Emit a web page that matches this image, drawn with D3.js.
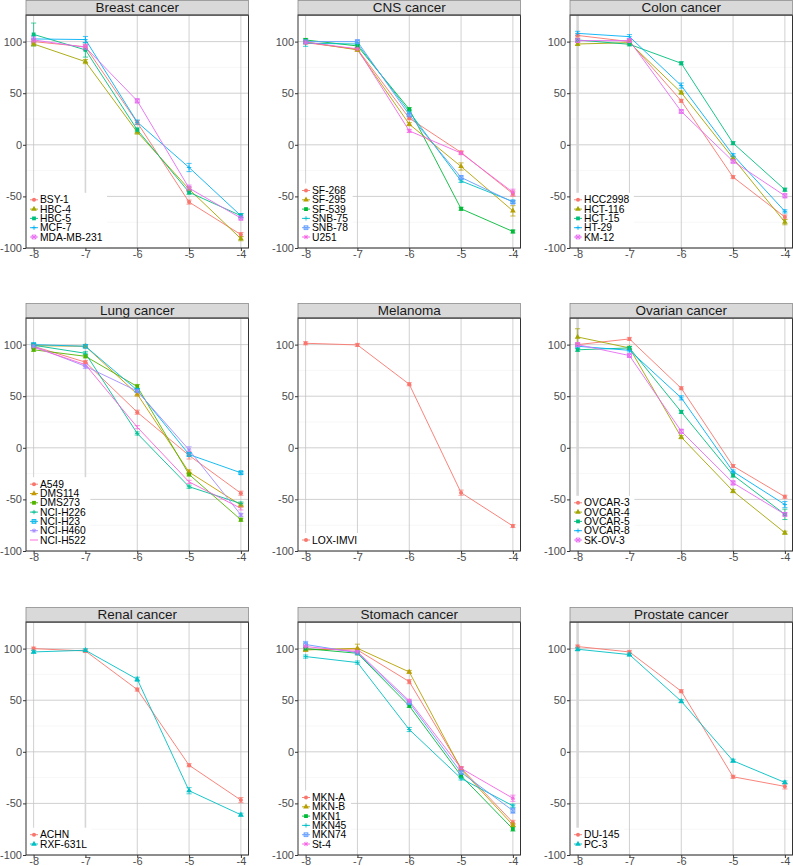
<!DOCTYPE html>
<html>
<head>
<meta charset="utf-8">
<script src="https://cdn.jsdelivr.net/npm/d3@7"></script>
<style>
  html, body { margin: 0; padding: 0; background: #fff; }
  svg { display: block; font-family: "Liberation Sans", Arial, sans-serif; }
</style>
</head>
<body>
<svg id="chart" width="793" height="866"></svg>
<script>
// ---------------- DATA ----------------
const doses = [-8, -7, -6, -5, -4];
const yTicks = [-100, -50, 0, 50, 100];
const yMinor = [-75, -25, 25, 75];
const panelTitles = ["Breast cancer", "CNS cancer", "Colon cancer",
                     "Lung cancer", "Melanoma", "Ovarian cancer",
                     "Renal cancer", "Stomach cancer", "Prostate cancer"];

const breastLines = ["BSY-1", "HBC-4", "HBC-5", "MCF-7", "MDA-MB-231"];
const breastMean = [[100, 95, 21.6, -55.5, -87], [97.7, 80.6, 12.3, -43, -91],
                    [107, 92, 14.5, -46, -68.7], [102.6, 102, 22, -22, -68.7],
                    [101.6, 94.5, 42.6, -42, -71]];
const breastSD = [[2, 2, 2, 2, 2], [2, 2, 2, 2, 2], [11, 7, 2, 2, 2],
                  [3, 3, 2, 4, 2], [3, 3, 2, 3, 2]];

const cnsLines = ["SF-268", "SF-295", "SF-539", "SNB-75", "SNB-78", "U251"];
const cnsMean = [[99, 92.6, 25.8, -7.4, -47.4], [99.7, 92, 20, -21, -64],
                 [101.6, 95.8, 34.5, -62, -84], [98.4, 97.7, 32, -35, -55],
                 [100, 100, 29, -31.6, -55.5], [99.4, 93, 13.5, -8, -46]];
const cnsSD = [[1.5, 1.5, 1.5, 1.5, 2.5], [1.5, 1.5, 1.5, 3.5, 5],
               [1.5, 1.5, 1.5, 1.5, 1.5], [3, 1.5, 2, 1.5, 1.5],
               [1.5, 1.5, 1.5, 1.5, 1.5], [1.5, 1.5, 1.5, 1.5, 3]];

const colonLines = ["HCC2998", "HCT-116", "HCT-15", "HT-29", "KM-12"];
const colonMean = [[106, 100, 42.6, -31.3, -70], [97.7, 99, 50.6, -13, -75],
                   [101.6, 97.4, 79, 1.6, -43.5], [108, 104.8, 57.4, -10, -64.5],
                   [101, 101, 32.3, -16, -49.4]];
const colonSD = [[1.5, 1.5, 1.5, 1.5, 2], [1.5, 1.5, 1.5, 1.5, 2.5],
                 [1.5, 1.5, 1.5, 1.5, 1.5], [2, 2, 2.5, 1.5, 1.5],
                 [1.5, 1.5, 1.5, 1.5, 2]];

const lungLines = ["A549", "DMS114", "DMS273", "NCI-H226", "NCI-H23", "NCI-H460", "NCI-H522"];
const lungMean = [[98.4, 83, 34.5, -7.4, -44], [99, 98.4, 52, -23.5, -55.5],
                  [95, 88.7, 59.4, -25.8, -69.7], [99.4, 91.6, 13.9, -37.7, -54],
                  [100, 98.4, 55.8, -6.5, -24.2], [98.4, 79, 55, -2, -65],
                  [97.4, 80.6, 20, -33, -58.7]];
const lungSD = [[1.5, 1.5, 2, 3.5, 2], [1.5, 1.5, 2, 2, 2], [1.5, 1.5, 2, 1.5, 1.5],
                [1.5, 1.5, 1.5, 1.5, 1.5], [1.5, 1.5, 1.5, 1.5, 1.5],
                [1.5, 2, 1.5, 3, 1.5], [1.5, 1.5, 1.5, 1.5, 1.5]];

const melanomaLines = ["LOX-IMVI"];
const melanomaMean = [[101.3, 99.7, 61.6, -43.5, -75.8]];
const melanomaSD = [[1.5, 1.5, 1.5, 2.5, 1.5]];

const ovarianLines = ["OVCAR-3", "OVCAR-4", "OVCAR-5", "OVCAR-8", "SK-OV-3"];
const ovarianMean = [[100, 105.5, 57.7, -17.7, -47.4], [107.4, 96.8, 10.3, -42, -82.3],
                     [95, 96.8, 34.8, -26.5, -64.5], [98.4, 94.5, 48.4, -23, -55],
                     [100, 89.4, 16, -34, -64.5]];
const ovarianSD = [[1.5, 1.5, 1.5, 1.5, 1.5], [8, 1.5, 1.5, 1.5, 1.5],
                   [1.5, 1.5, 1.5, 2, 5], [1.5, 1.5, 2, 1.5, 3],
                   [1.5, 1.5, 2, 2, 1.5]];

const renalLines = ["ACHN", "RXF-631L"];
const renalMean = [[100, 97.7, 60.3, -13, -46.8], [96.8, 98.4, 70.3, -37.7, -61]];
const renalSD = [[1.5, 1.5, 1.5, 1.5, 2.5], [1.5, 1.5, 2, 3, 1.5]];

const stomachLines = ["MKN-A", "MKN-B", "MKN1", "MKN45", "MKN74", "St-4"];
const stomachMean = [[99.4, 98.7, 68, -15.8, -68.4], [98.7, 100.3, 77.4, -16.8, -71],
                     [100, 95.5, 44.5, -23.2, -74.8], [92.3, 86.5, 21.6, -25.8, -52.3],
                     [104, 96, 47.7, -20, -57], [102, 97, 49.4, -16, -45]];
const stomachSD = [[1.5, 1.5, 2, 1.5, 2], [1.5, 4, 1.5, 1.5, 1.5], [1.5, 1.5, 1.5, 1.5, 2],
                   [1.5, 1.5, 2, 1.5, 1.5], [3, 1.5, 1.5, 1.5, 2.5], [1.5, 1.5, 1.5, 1.5, 3]];

const prostateLines = ["DU-145", "PC-3"];
const prostateMean = [[102, 96.8, 58.7, -24.2, -33.5], [99.4, 94.2, 49, -8.7, -29.7]];
const prostateSD = [[1.5, 1.5, 1.5, 1.5, 2.5], [1.5, 1.5, 1.5, 1.5, 1.5]];

const panelData = [
  [breastLines, breastMean, breastSD], [cnsLines, cnsMean, cnsSD], [colonLines, colonMean, colonSD],
  [lungLines, lungMean, lungSD], [melanomaLines, melanomaMean, melanomaSD], [ovarianLines, ovarianMean, ovarianSD],
  [renalLines, renalMean, renalSD], [stomachLines, stomachMean, stomachSD], [prostateLines, prostateMean, prostateSD]
];

// ---------------- LAYOUT ----------------
const colLeft = [26, 298, 570];
const rowTop = [0, 303, 607];
const panelW = 222.5, stripH = 15, plotH = 233;

function huePalette(n) {
  const pal = {
    1: ["#F8766D"],
    2: ["#F8766D", "#00BFC4"],
    5: ["#F8766D", "#A3A500", "#00BF7D", "#00B0F6", "#E76BF3"],
    6: ["#F8766D", "#B79F00", "#00BA38", "#00BFC4", "#619CFF", "#F564E3"],
    7: ["#F8766D", "#C49A00", "#53B400", "#00C094", "#00B6EB", "#A58AFF", "#FB61D7"]
  };
  return pal[n];
}

// draw ggplot-style shapes
function drawShape(g, idx, cx, cy, color) {
  const s = 2.2;
  if (idx === 0) {
    g.append("circle").attr("cx", cx).attr("cy", cy).attr("r", 2).attr("fill", color);
  } else if (idx === 1) {
    g.append("path").attr("d", d3.symbol(d3.symbolTriangle, 14)())
      .attr("transform", `translate(${cx},${cy})`).attr("fill", color);
  } else if (idx === 2) {
    g.append("rect").attr("x", cx - 1.9).attr("y", cy - 1.9).attr("width", 3.8).attr("height", 3.8).attr("fill", color);
  } else if (idx === 3) {
    g.append("path").attr("d", `M${cx - s},${cy}H${cx + s}M${cx},${cy - s}V${cy + s}`)
      .attr("stroke", color).attr("stroke-width", 0.9).attr("fill", "none");
  } else if (idx === 4) {
    const r = 1.9;
    g.append("path").attr("d",
      `M${cx - r},${cy - r}H${cx + r}V${cy + r}H${cx - r}Z M${cx - r},${cy - r}L${cx + r},${cy + r}M${cx + r},${cy - r}L${cx - r},${cy + r}`)
      .attr("stroke", color).attr("stroke-width", 0.9).attr("fill", "none");
  } else if (idx === 5) {
    const r = 1.7;
    g.append("path").attr("d",
      `M${cx - s},${cy}H${cx + s}M${cx},${cy - s}V${cy + s}M${cx - r},${cy - r}L${cx + r},${cy + r}M${cx + r},${cy - r}L${cx - r},${cy + r}`)
      .attr("stroke", color).attr("stroke-width", 0.9).attr("fill", "none");
  }
  // idx >= 6: no shape (ggplot default palette has only 6 shapes)
}

const svg = d3.select("#chart");
const plainFmt = d => String(d); // ASCII hyphen-minus as in the reference

panelData.forEach((pd, i) => {
  const [names, means, sds] = pd;
  const col = i % 3, row = Math.floor(i / 3);
  const px = colLeft[col], pt = rowTop[row];
  const top = pt + stripH, bottom = top + plotH;
  const x = d3.scaleLinear().domain([-8.147, -3.853]).range([px, px + panelW]);
  const y = d3.scaleLinear().domain([-100, 125.8]).range([bottom, top]);
  const colors = huePalette(names.length);
  const g = svg.append("g");

  // background
  g.append("rect").attr("x", px).attr("y", top).attr("width", panelW).attr("height", plotH).attr("fill", "#fff");

  // minor gridlines
  g.selectAll(null).data(yMinor).enter().append("line")
    .attr("x1", px).attr("x2", px + panelW).attr("y1", d => y(d)).attr("y2", d => y(d))
    .attr("stroke", "#F2F2F2").attr("stroke-width", 0.6);
  // major gridlines
  g.selectAll(null).data(yTicks).enter().append("line")
    .attr("x1", px).attr("x2", px + panelW).attr("y1", d => y(d)).attr("y2", d => y(d))
    .attr("stroke", "#C4C4C4").attr("stroke-width", 0.8);
  g.selectAll(null).data(doses).enter().append("line")
    .attr("x1", d => x(d)).attr("x2", d => x(d)).attr("y1", top).attr("y2", bottom)
    .attr("stroke", d => (col === 0 && d === -7) || (col === 2 && d === -8) ? "#D6D6D6" : "#C4C4C4")
    .attr("stroke-width", d => (col === 0 && d === -7) ? 1.6 : (col === 2 && d === -8) ? 2.6 : 0.8);

  // series lines
  const line = d3.line().x((d, k) => x(doses[k])).y(d => y(d));
  means.forEach((m, s) => {
    g.append("path").attr("d", line(m)).attr("fill", "none")
      .attr("stroke", colors[s]).attr("stroke-width", 0.9);
  });
  // error bars
  means.forEach((m, s) => {
    m.forEach((v, k) => {
      const e = sds[s][k];
      const cx = x(doses[k]);
      g.append("path")
        .attr("d", `M${cx},${y(v - e)}V${y(v + e)}M${cx - 2.6},${y(v + e)}H${cx + 2.6}M${cx - 2.6},${y(v - e)}H${cx + 2.6}`)
        .attr("stroke", colors[s]).attr("stroke-width", 0.8).attr("fill", "none").attr("opacity", 0.9);
    });
  });
  // points
  means.forEach((m, s) => {
    m.forEach((v, k) => drawShape(g, s, x(doses[k]), y(v), colors[s]));
  });

  // legend
  const n = names.length, step = 9.3;
  const lastY = bottom - 11;
  const firstY = lastY - (n - 1) * step;
  const lg = g.append("g");
  const bgRect = lg.append("rect").attr("x", px + 0.6).attr("y", firstY - 7)
    .attr("height", bottom - (firstY - 7) - 0.6).attr("fill", "#fff");
  let maxW = 0;
  names.forEach((nm, s) => {
    const cy = firstY + s * step;
    const kx = px + 8;
    lg.append("line").attr("x1", kx - 4).attr("x2", kx + 4).attr("y1", cy).attr("y2", cy)
      .attr("stroke", colors[s]).attr("stroke-width", 0.9);
    drawShape(lg, s, kx, cy, colors[s]);
    const t = lg.append("text").attr("x", px + 14).attr("y", cy + 3.6)
      .attr("font-size", "10.3px").attr("fill", "#000").text(nm);
    maxW = Math.max(maxW, t.node().getComputedTextLength());
  });
  bgRect.attr("width", 14 + maxW + 4);

  // panel border
  g.append("rect").attr("x", px).attr("y", top).attr("width", panelW).attr("height", plotH)
    .attr("fill", "none").attr("stroke", "#333").attr("stroke-width", 1);

  // strip
  g.append("rect").attr("x", px).attr("y", pt + 0.5).attr("width", panelW).attr("height", stripH - 0.5)
    .attr("fill", "#D9D9D9").attr("stroke", "#8C8C8C").attr("stroke-width", 0.8);
  g.append("text").attr("x", px + panelW / 2).attr("y", pt + stripH / 2 + 4.8)
    .attr("text-anchor", "middle").attr("font-size", "13.5px").attr("fill", "#1A1A1A")
    .text(panelTitles[i]);
  g.append("line").attr("x1", px).attr("x2", px + panelW).attr("y1", top).attr("y2", top)
    .attr("stroke", "#333").attr("stroke-width", 1);

  // axes
  const ay = g.append("g").attr("transform", `translate(${px},0)`)
    .call(d3.axisLeft(y).tickValues(yTicks).tickSize(3).tickPadding(1).tickFormat(plainFmt));
  ay.select(".domain").remove();
  ay.selectAll("text").attr("font-size", "11px").attr("fill", "#4D4D4D").attr("font-family", "Liberation Sans, Arial, sans-serif");
  ay.selectAll("line").attr("stroke", "#333");

  const ax = g.append("g").attr("transform", `translate(0,${bottom})`)
    .call(d3.axisBottom(x).tickValues(doses).tickSize(3).tickPadding(0).tickFormat(plainFmt));
  ax.select(".domain").remove();
  ax.selectAll("text").attr("font-size", "11px").attr("fill", "#4D4D4D").attr("font-family", "Liberation Sans, Arial, sans-serif")
    .attr("dy", "0.66em");
  ax.selectAll("line").attr("stroke", "#333");
});
</script>
</body>
</html>
